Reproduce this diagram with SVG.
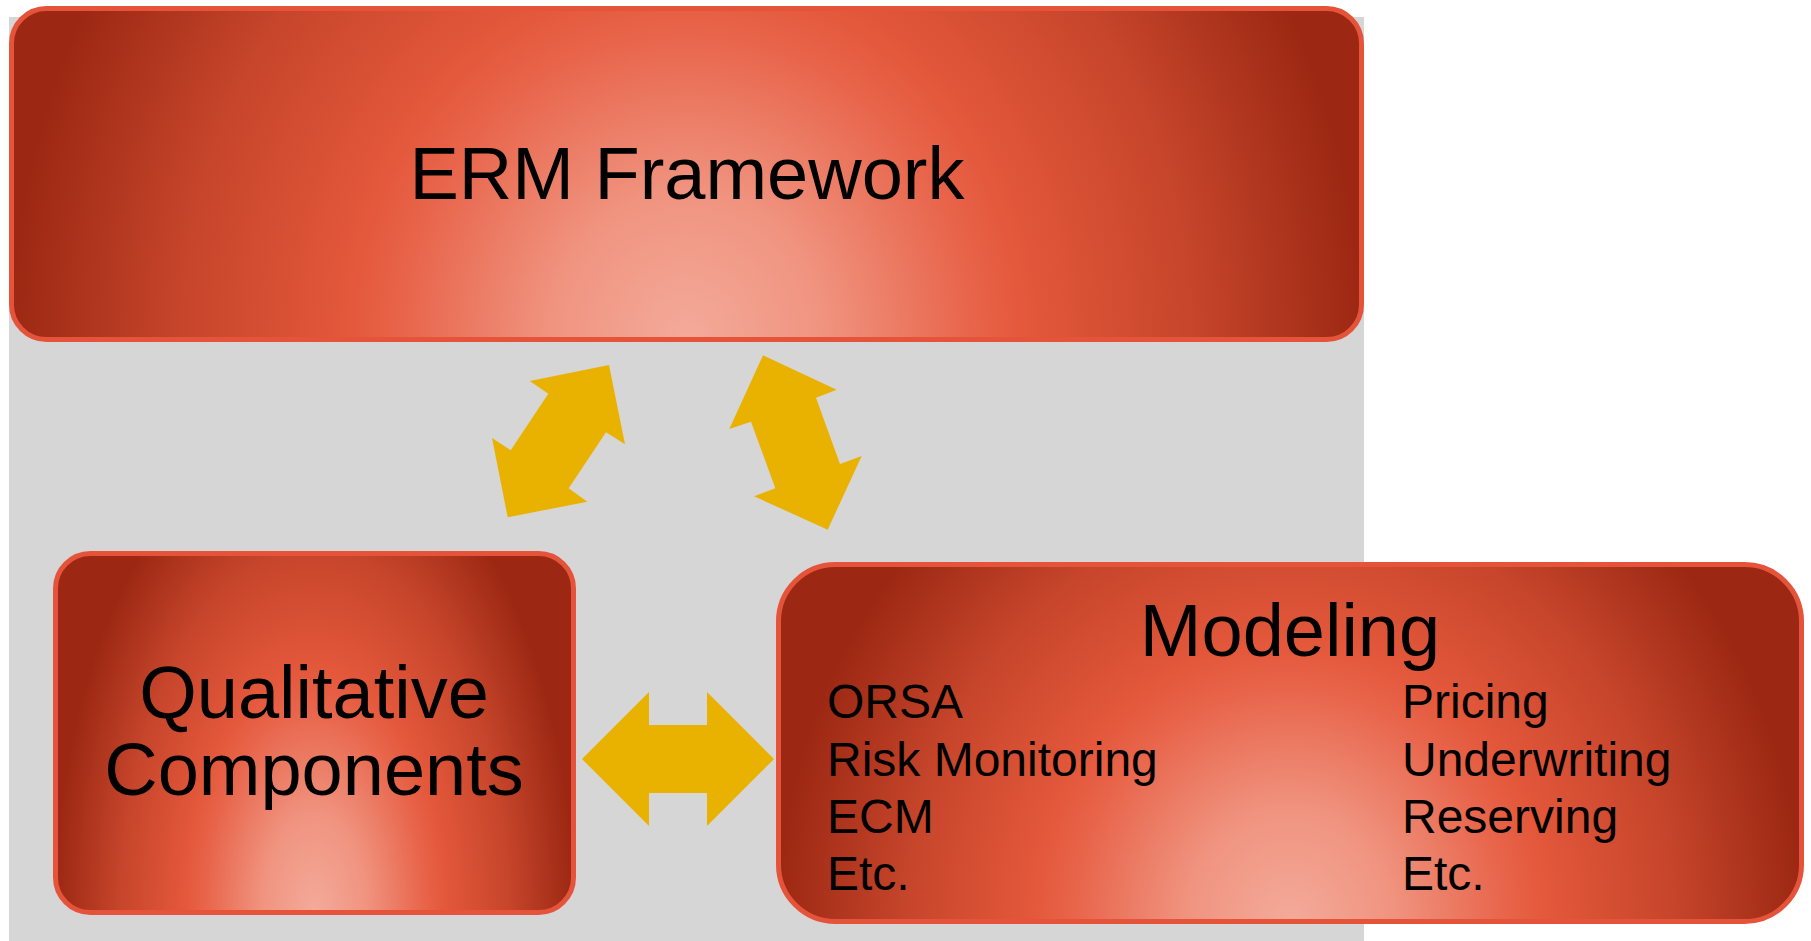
<svg xmlns="http://www.w3.org/2000/svg" width="1811" height="941" viewBox="0 0 1811 941">
  <defs>
    <!-- Warm path-style fill: light glow at the bottom centre, darkening outwards -->
    <radialGradient id="glowWide" cx="0.5" cy="1" r="0.5" gradientTransform="translate(0.5 1) scale(1 4.4) translate(-0.5 -1)">
      <stop offset="0" stop-color="#F4AA9A"/>
      <stop offset="0.2" stop-color="#F09480"/>
      <stop offset="0.42" stop-color="#E8654B"/>
      <stop offset="0.5" stop-color="#E4583B"/>
      <stop offset="0.75" stop-color="#C6452B"/>
      <stop offset="1" stop-color="#9C2813"/>
    </radialGradient>
    <radialGradient id="glowBox" cx="0.5" cy="1" r="0.5" gradientTransform="translate(0.5 1) scale(1 2.7) translate(-0.5 -1)">
      <stop offset="0" stop-color="#F4AA9A"/>
      <stop offset="0.2" stop-color="#F09480"/>
      <stop offset="0.42" stop-color="#E8654B"/>
      <stop offset="0.5" stop-color="#E4583B"/>
      <stop offset="0.75" stop-color="#C6452B"/>
      <stop offset="1" stop-color="#9C2813"/>
    </radialGradient>
    <radialGradient id="glowModel" cx="0.5" cy="1" r="0.5" gradientTransform="translate(0.5 1) scale(1 3.1) translate(-0.5 -1)">
      <stop offset="0" stop-color="#F4AA9A"/>
      <stop offset="0.2" stop-color="#F09480"/>
      <stop offset="0.42" stop-color="#E8654B"/>
      <stop offset="0.5" stop-color="#E4583B"/>
      <stop offset="0.75" stop-color="#C6452B"/>
      <stop offset="1" stop-color="#9C2813"/>
    </radialGradient>
  </defs>
  <style>
    .box { stroke: #E5533A; stroke-width: 5; }
    .title { font-family: "Liberation Sans", Arial, sans-serif; font-size: 74px; fill: #000; text-anchor: middle; }
    .item { font-family: "Liberation Sans", Arial, sans-serif; font-size: 48px; fill: #000; }
    .arrow { fill: #EAB200; }
  </style>

  <!-- background panel -->
  <rect x="9" y="17" width="1355" height="924" fill="#D6D6D6"/>

  <g id="erm-framework">
    <rect class="box" x="11.5" y="8.5" width="1350" height="331" rx="35" ry="35" fill="url(#glowWide)"/>
    <text class="title" x="687" y="199">ERM Framework</text>
  </g>

  <g id="qualitative-components">
    <rect class="box" x="55.5" y="553.5" width="518" height="359" rx="35" ry="35" fill="url(#glowBox)"/>
    <text class="title" x="314" y="718">Qualitative</text>
    <text class="title" x="314" y="795">Components</text>
  </g>

  <g id="modeling">
    <rect class="box" x="778.5" y="564.5" width="1023" height="357" rx="57" ry="57" fill="url(#glowModel)"/>
    <text class="title" x="1290" y="656">Modeling</text>
    <text class="item" x="827" y="718">ORSA</text>
    <text class="item" x="827" y="776">Risk Monitoring</text>
    <text class="item" x="827" y="833">ECM</text>
    <text class="item" x="827" y="890">Etc.</text>
    <text class="item" x="1402" y="718">Pricing</text>
    <text class="item" x="1402" y="776">Underwriting</text>
    <text class="item" x="1402" y="833">Reserving</text>
    <text class="item" x="1402" y="890">Etc.</text>
  </g>

  <g id="connectors">
    <!-- ERM <-> Qualitative -->
    <polygon class="arrow" points="529.7,381 609,365 625,444.3 606,432.3 568.7,488.3 587.3,501.7 507.7,517.3 492,438 510.7,450.3 548.3,393.7"/>
    <!-- ERM <-> Modeling -->
    <polygon class="arrow" points="763,355.3 836.7,389.7 816,397.7 840,464 861.7,456 827.7,529.7 754,496.3 775.3,488.3 751,421.7 729.3,429"/>
    <!-- Qualitative <-> Modeling -->
    <polygon class="arrow" points="582,759 649,692 649,725 707,725 707,692 774,759 707,826 707,793 649,793 649,826"/>
  </g>
</svg>
